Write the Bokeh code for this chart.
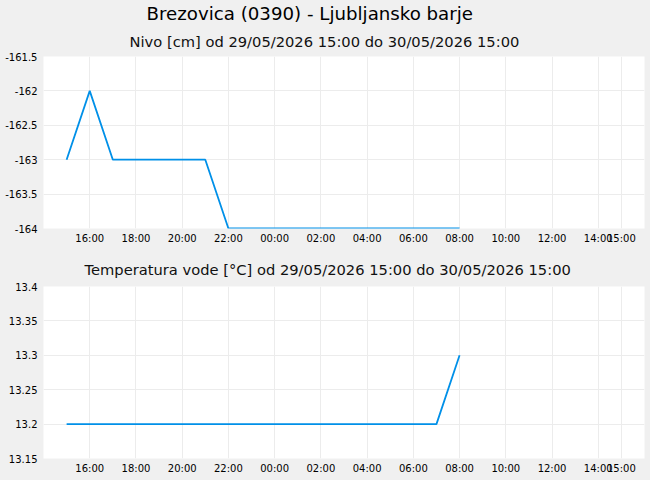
from datetime import datetime, timezone

from bokeh.embed import file_html
from bokeh.layouts import column
from bokeh.models import (ColumnDataSource, CustomJSTickFormatter, DatetimeTickFormatter,
                          FixedTicker, Range1d, Title)
from bokeh.plotting import figure
from bokeh.resources import INLINE

# ---------------- data ----------------
station_title = "Brezovica (0390) - Ljubljansko barje"
nivo_title = "Nivo [cm] od 29/05/2026 15:00 do 30/05/2026 15:00"
temp_title = "Temperatura vode [°C] od 29/05/2026 15:00 do 30/05/2026 15:00"

times = ["2026-05-29 15:00", "2026-05-29 16:00", "2026-05-29 17:00", "2026-05-29 18:00",
         "2026-05-29 19:00", "2026-05-29 20:00", "2026-05-29 21:00", "2026-05-29 22:00",
         "2026-05-29 23:00", "2026-05-30 00:00", "2026-05-30 01:00", "2026-05-30 02:00",
         "2026-05-30 03:00", "2026-05-30 04:00", "2026-05-30 05:00", "2026-05-30 06:00",
         "2026-05-30 07:00", "2026-05-30 08:00"]
nivo = [-163, -162, -163, -163, -163, -163, -163, -164, -164,
        -164, -164, -164, -164, -164, -164, -164, -164, -164]
temp = [13.2, 13.2, 13.2, 13.2, 13.2, 13.2, 13.2, 13.2, 13.2,
        13.2, 13.2, 13.2, 13.2, 13.2, 13.2, 13.2, 13.2, 13.3]

x_ticks = ["2026-05-29 16:00", "2026-05-29 18:00", "2026-05-29 20:00", "2026-05-29 22:00",
           "2026-05-30 00:00", "2026-05-30 02:00", "2026-05-30 04:00", "2026-05-30 06:00",
           "2026-05-30 08:00", "2026-05-30 10:00", "2026-05-30 12:00", "2026-05-30 14:00",
           "2026-05-30 15:00"]
x_start = "2026-05-29 14:00"
x_end = "2026-05-30 16:00"
nivo_ticks = [-164, -163.5, -163, -162.5, -162, -161.5]
temp_ticks = [13.15, 13.2, 13.25, 13.3, 13.35, 13.4]


def ms(s):
    return datetime.strptime(s, "%Y-%m-%d %H:%M").replace(tzinfo=timezone.utc).timestamp() * 1000.0


# ---------------- styling ----------------
BG = "#f0f0f0"
GRID = "#ececec"
LINE = "#0090e8"
FONT = "DejaVu Sans"
W = 650

src = ColumnDataSource(dict(t=[ms(s) for s in times], nivo=nivo, temp=temp))

xfmt = DatetimeTickFormatter(microseconds="%H:%M", milliseconds="%H:%M", seconds="%H:%M",
                             minsec="%H:%M", minutes="%H:%M", hourmin="%H:%M", hours="%H:%M",
                             days="%H:%M", months="%H:%M", years="%H:%M")
yfmt = CustomJSTickFormatter(code="return String(Math.round(tick*100)/100);")


def make_fig(height, yr, yticks, left, top, bottom):
    p = figure(width=W, height=height, x_axis_type="datetime",
               x_range=Range1d(ms(x_start), ms(x_end)), y_range=Range1d(*yr),
               output_backend="svg", toolbar_location=None,
               min_border_left=left, min_border_right=6, min_border_top=top,
               min_border_bottom=bottom, background_fill_color="white",
               border_fill_color=BG, outline_line_color=None)
    p.xaxis.ticker = FixedTicker(ticks=[ms(s) for s in x_ticks])
    p.xaxis.formatter = xfmt
    p.yaxis.ticker = FixedTicker(ticks=yticks)
    p.yaxis.formatter = yfmt
    for ax in (p.xaxis[0], p.yaxis[0]):
        ax.axis_line_color = None
        ax.major_tick_line_color = None
        ax.minor_tick_line_color = None
        ax.major_tick_out = 0
        ax.major_tick_in = 0
        ax.major_label_text_font = FONT
        ax.major_label_text_font_size = "10px"
        ax.major_label_text_color = "#000000"
    p.xaxis.major_label_standoff = 4
    p.yaxis.major_label_standoff = 6
    p.xgrid.grid_line_color = GRID
    p.ygrid.grid_line_color = GRID
    return p


p1 = make_fig(250, (-164, -161.5), nivo_ticks, 43, 56, 22)
p1.line("t", "nivo", source=src, line_color=LINE, line_width=1.8)
p1.add_layout(Title(text=nivo_title, align="left", offset=86, text_font=FONT,
                    text_font_size="14.7px", text_font_style="normal",
                    text_color="#111111", standoff=14), "above")
p1.add_layout(Title(text=station_title, align="left", offset=103, text_font=FONT,
                    text_font_size="18.2px", text_font_style="normal",
                    text_color="#000000", standoff=0), "above")

p2 = make_fig(230, (13.15, 13.4), temp_ticks, 40, 36, 22)
p2.line("t", "temp", source=src, line_color=LINE, line_width=1.8)
p2.add_layout(Title(text=temp_title, align="left", offset=41, text_font=FONT,
                    text_font_size="14.7px", text_font_style="normal",
                    text_color="#111111", standoff=17), "above")

layout = column(p1, p2, spacing=0, background=BG)

with open("out.html", "w") as f:
    f.write(file_html(layout, INLINE))
